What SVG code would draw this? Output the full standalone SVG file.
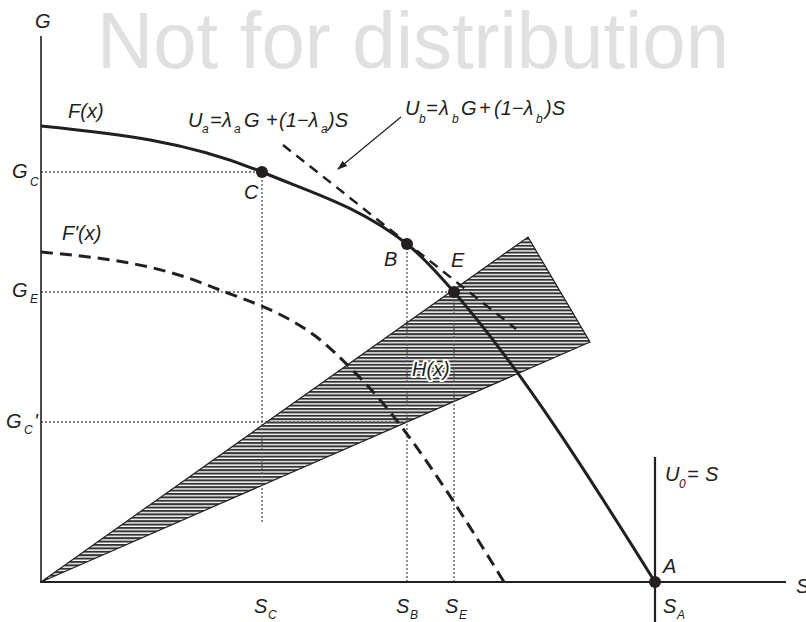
<svg xmlns="http://www.w3.org/2000/svg" width="806" height="622" viewBox="0 0 806 622">
<style>
text{font-family:"Liberation Sans",Arial,sans-serif;font-style:italic;font-size:20px;fill:#231f20}
.sub{font-size:12px}
.wm{font-style:normal;font-size:80px;fill:#e0e0e0}
.axis{stroke:#231f20;fill:none}
.curve{stroke:#231f20;stroke-width:3;fill:none}
.dash{stroke:#231f20;stroke-width:3;fill:none;stroke-dasharray:12 7}
.tan{stroke:#231f20;stroke-width:2.5;fill:none;stroke-dasharray:10 7}
.dot{stroke:#555;stroke-width:1.3;fill:none;stroke-dasharray:2 2}
.pt{fill:#231f20}
.halo{stroke:#fff;stroke-width:4;paint-order:stroke;stroke-linejoin:round}
</style>
<defs>
<pattern id="hatch" patternUnits="userSpaceOnUse" width="10" height="3.4">
<rect x="0" y="0" width="10" height="3.4" fill="#fff"/>
<rect x="0" y="0" width="10" height="2" fill="#333"/>
</pattern>
<marker id="arr" viewBox="0 0 10 10" refX="9" refY="5" markerWidth="10" markerHeight="10" markerUnits="userSpaceOnUse" orient="auto">
<path d="M0,1.5 L10,5 L0,8.5 Z" fill="#231f20"/>
</marker>
</defs>
<rect width="806" height="622" fill="#fff"/>
<text class="wm" x="97" y="68" textLength="632" lengthAdjust="spacingAndGlyphs">Not for distribution</text>

<g id="region-H">
<polygon points="41,582 528,237 590,342" fill="url(#hatch)" stroke="#231f20" stroke-width="1.2"/>
</g>

<g id="guides">
<line class="dot" x1="41" y1="172" x2="262" y2="172"/>
<line class="dot" x1="262" y1="172" x2="262" y2="522"/>
<line class="dot" x1="41" y1="292" x2="454" y2="292"/>
<line class="dot" x1="454" y1="292" x2="454" y2="582"/>
<line class="dot" x1="407" y1="244" x2="407" y2="582"/>
<line class="dot" x1="41" y1="422" x2="407" y2="422"/>
</g>

<g id="connectors">
<line class="tan" x1="283" y1="145" x2="516" y2="329"/>
<line x1="401" y1="117" x2="338" y2="169" stroke="#231f20" stroke-width="1.2" marker-end="url(#arr)"/>
</g>

<g id="axes">
<line class="axis" x1="41" y1="36" x2="41" y2="583" stroke-width="1.6"/>
<line class="axis" x1="40" y1="582" x2="786" y2="582" stroke-width="2.2"/>
<line class="axis" x1="655" y1="457" x2="655" y2="622" stroke-width="2.2"/>
</g>

<g id="curve-F">
<path class="curve" d="M41,126 C114.7,133.4 188.3,141 262,172 C310.3,192.3 358.7,205.8 407,244 C422.7,256.4 438.3,274 454,292 C521,369 588,474.8 655,582"/>
</g>
<g id="curve-Fprime">
<path class="dash" d="M41,252 C96.6,257.2 152.1,262.7 207.6,285.2 C244.1,299.9 280.5,309.6 317,337.3 C328.8,346.3 340.6,358 352.4,370 C402,418 455,502 504,582"/>
</g>

<g id="point-C"><circle class="pt" cx="262" cy="172" r="6"/><text x="244" y="199">C</text></g>
<g id="point-B"><circle class="pt" cx="407" cy="244" r="6"/><text x="384" y="266">B</text></g>
<g id="point-E"><circle class="pt" cx="454" cy="292" r="6"/><text x="451" y="267">E</text></g>
<g id="point-A"><circle class="pt" cx="655" cy="582" r="6"/><text x="663" y="573">A</text></g>

<g id="labels">
<text x="35" y="28">G</text>
<text x="796" y="593">S</text>
<text x="68" y="118">F(x)</text>
<text x="62" y="240">F'(x)</text>
<text x="12" y="178">G</text><text class="sub" x="30" y="186">C</text>
<text x="12" y="297">G</text><text class="sub" x="30" y="303">E</text>
<text x="6" y="428">G</text><text class="sub" x="24" y="434">C</text><text x="34" y="428">'</text>
<text class="halo" x="412" y="376">H(x)</text>
<text x="254" y="613">S</text><text class="sub" x="268" y="619">C</text>
<text x="396" y="613">S</text><text class="sub" x="410" y="619">B</text>
<text x="445" y="613">S</text><text class="sub" x="459" y="619">E</text>
<text x="663" y="613">S</text><text class="sub" x="677" y="619">A</text>
<text x="665" y="481">U</text><text class="sub" x="679" y="488">0</text><text x="687" y="481">=</text><text x="705" y="481">S</text>
</g>

<g id="label-Ua">
<text x="188" y="127">U</text><text class="sub" x="202" y="133">a</text>
<text x="210" y="127">=</text><text x="222" y="127">λ</text><text class="sub" x="234" y="133">a</text>
<text x="244" y="127">G</text><text x="266" y="127">+</text>
<text x="279" y="127">(1−λ</text><text class="sub" x="321" y="133">a</text><text x="328" y="127">)S</text>
</g>
<g id="label-Ub">
<text x="405" y="115">U</text><text class="sub" x="419" y="123">b</text>
<text x="426" y="115">=</text><text x="439" y="115">λ</text><text class="sub" x="452" y="123">b</text>
<text x="461" y="115">G</text><text x="479" y="115">+</text>
<text x="494" y="115">(1−λ</text><text class="sub" x="536" y="123">b</text><text x="545" y="115">)S</text>
</g>
</svg>
